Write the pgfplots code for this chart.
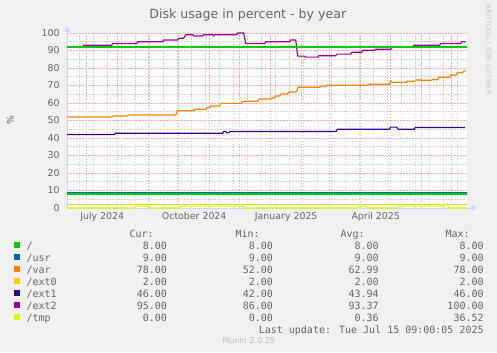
\documentclass[border=0pt]{standalone}
\usepackage{fontspec}
\setmainfont{DejaVu Sans}
\newfontfamily\legmono{DejaVu Sans Mono}
\usepackage{pgfplots}
\pgfplotsset{compat=1.18}
\usetikzlibrary{arrows.meta}
\definecolor{bgcol}{HTML}{F0F0F0}
\definecolor{fontcol}{HTML}{666666}
\definecolor{axiscol}{HTML}{CFD6F8}
\definecolor{gridred}{HTML}{F4ACAC}
\definecolor{gridgray}{HTML}{D4D4D4}
\definecolor{wmcol}{HTML}{C8C8C8}
\definecolor{muncol}{HTML}{BBBBBB}
\definecolor{cRoot}{HTML}{00CC00}
\definecolor{cUsr}{HTML}{0066B3}
\definecolor{cVar}{HTML}{FF8000}
\definecolor{cExtA}{HTML}{FFCC00}
\definecolor{cExtB}{HTML}{330099}
\definecolor{cExtC}{HTML}{990099}
\definecolor{cTmp}{HTML}{CCFF00}
\newcommand{\legrow}[7]{%
  \fill[#3] (14,{103.7-12*#1}) rectangle (20,{109.7-12*#1});
  \node[anchor=base west] at (26.4,{102.9-12*#1}) {#2};
  \node[anchor=base east] at (167.2,{102.9-12*#1}) {#4};
  \node[anchor=base east] at (273.2,{102.9-12*#1}) {#5};
  \node[anchor=base east] at (378.8,{102.9-12*#1}) {#6};
  \node[anchor=base east] at (483.8,{102.9-12*#1}) {#7};
}
\begin{document}
\begin{tikzpicture}[x=1bp,y=1bp]
\fill[bgcol] (0,0) rectangle (497,352);
\useasboundingbox (0,0) rectangle (497,352);
\begin{axis}[
  at={(67bp,144bp)}, anchor=south west,
  scale only axis, width=400bp, height=175bp,
  xmin=-19.7, xmax=380.3, ymin=0, ymax=100,
  clip=false,
  axis background/.style={fill=white},
  axis x line=bottom, axis y line=left,
  x axis line style={draw=axiscol, line width=1bp, -{Triangle[width=6bp,length=5bp]}, shorten >=-9.7bp},
  y axis line style={draw=axiscol, line width=1bp, -{Triangle[width=6bp,length=5bp]}, shorten >=-6.3bp},
  xtick={0,31,62,92,123,153,184,215,243,274,304,335,365},
  xticklabels={},
  minor xtick={-7,7,...,371},
  ytick={0,10,...,100},
  minor ytick={5,15,...,95},
  major tick length=0pt, minor tick length=0pt,
  grid=both,
  major grid style={draw=gridred, dash pattern=on 1.5bp off 1.5bp, line width=0.7bp},
  minor grid style={draw=gridgray, dash pattern=on 1.5bp off 1.5bp, line width=0.7bp},
  tick label style={font=\fontsize{9.4bp}{11bp}\selectfont, text=fontcol},
  /pgf/number format/assume math mode=true,
  yticklabel style={xshift=-3.9bp},
  extra x ticks={15.5,107.5,199.5,289},
  extra x tick labels={July 2024, October 2024, January 2025, April 2025},
  extra x tick style={grid=none, major tick length=0pt, xticklabel style={anchor=base, yshift=-11.4bp}},
  every axis plot/.append style={line width=1.15bp, line join=round},
]
% /
\addplot[cRoot] coordinates {(-19.7,8) (380.3,8)};
% /usr
\addplot[cUsr] coordinates {(-19.7,9) (380.3,9)};
% /var
\addplot[cVar] coordinates {(-19.7,52) (25,52) (26.6,52.6) (40,52.6) (41.6,53.1) (89,53.1) (91,55.6) (107.5,55.6) (108.5,56.4) (119.5,56.4) (120.5,57.5) (123,57.5) (124,58.3) (133,58.3) (134,59.8) (154.5,59.8) (156,60.8) (158,61) (171,61) (172.5,62.3) (184.5,62.3) (186,63) (188,63) (189,64) (193,64) (194,65.1) (201,65.1) (202,66.3) (209.5,66.3) (211.5,69) (233,69) (234,69.5) (239.5,69.5) (240.5,70.1) (281,70.1) (282,70.7) (303,70.7) (304,72.8) (305.5,71.8) (319.5,71.8) (320.5,72.4) (328,72.4) (329,73.1) (333,73.1) (333.5,73.5) (334.5,73) (344.5,73) (345.5,73.3) (351,73.3) (352,74.7) (363,74.7) (364,76) (369.5,76) (370.5,77.3) (376,77.3) (377,78.3) (379,78.3)};
% /ext0
\addplot[cExtA] coordinates {(-19.7,2) (380.3,2)};
% /ext1
\addplot[cExtB] coordinates {(-19.7,42) (28,42) (28.5,42.7) (136,42.7) (137,43.7) (139,43.7) (140,42.9) (142,42.9) (143,43.7) (249.5,43.7) (250.5,45) (302.5,45) (304,46.2) (310,46.2) (311.5,45) (327.5,45) (328.5,46) (378.5,46)};
% /ext2
\addplot[cExtC] coordinates {(-19.7,92) (-4,92) (-3,93) (25,93) (26,94) (50,94) (51,95) (76,95) (77,96) (91,96) (92,97) (97,97) (99,99) (106,99) (107,98.3) (116,98.3) (117,99) (126,99) (127,98.3) (128,99) (150,99) (151,100) (157,100) (159,94) (178,94) (179,95) (203,95) (204,96) (209,96) (211,86.8) (218,86.8) (219,86.2) (231,86.2) (232,87) (249,87) (250,87.9) (264,87.9) (265,89) (275,89) (276,90.1) (288,90.1) (289,90.7) (304,90.7) (306,92) (326,92) (327,93) (353,93) (354,94) (374,94) (375,95) (379,95)};
% /tmp
\addplot[cTmp] coordinates {(-19.7,0) (48,0) (49,1.1) (62,1.1) (63,0) (94,0) (95,1.1) (156,1.1) (157,0) (270,0) (271,1.1) (279,1.1) (280,0) (311,0) (312,1.1) (357,1.1) (358.5,2.3) (361,2.3) (362,0) (380.3,0)};
% warning rule
\addplot[cRoot] coordinates {(-19.7,92) (380.3,92)};
\end{axis}
% title and labels
\node[anchor=base, font=\fontsize{12.6bp}{14bp}\selectfont, text=fontcol] at (247.8,333.7) {Disk usage in percent - by year};
\node[rotate=90, font=\fontsize{9.2bp}{11bp}\selectfont, text=fontcol] at (10.3,232) {\%};
\node[rotate=-90, font=\fontsize{7bp}{8bp}\selectfont, text=wmcol] at (488.3,302) {RRDTOOL / TOBI OETIKER};
% legend
\begin{scope}[every node/.style={font=\legmono\fontsize{10bp}{12bp}\selectfont, text=fontcol, inner sep=0pt}]
\node[anchor=base east] at (153.8,114.9) {Cur:};
\node[anchor=base east] at (259.8,114.9) {Min:};
\node[anchor=base east] at (364.8,114.9) {Avg:};
\node[anchor=base east] at (469.8,114.9) {Max:};
\legrow{0}{/}{cRoot}{8.00}{8.00}{8.00}{8.00}
\legrow{1}{/usr}{cUsr}{9.00}{9.00}{9.00}{9.00}
\legrow{2}{/var}{cVar}{78.00}{52.00}{62.99}{78.00}
\legrow{3}{/ext0}{cExtA}{2.00}{2.00}{2.00}{2.00}
\legrow{4}{/ext1}{cExtB}{46.00}{42.00}{43.94}{46.00}
\legrow{5}{/ext2}{cExtC}{95.00}{86.00}{93.37}{100.00}
\legrow{6}{/tmp}{cTmp}{0.00}{0.00}{0.36}{36.52}
\node[anchor=base east] at (483.8,18.9) {Last update: Tue Jul 15 09:00:05 2025};
\end{scope}
\node[anchor=base, font=\fontsize{8bp}{9bp}\selectfont, text=muncol] at (248.8,8.1) {Munin 2.0.25};
\end{tikzpicture}
\end{document}
